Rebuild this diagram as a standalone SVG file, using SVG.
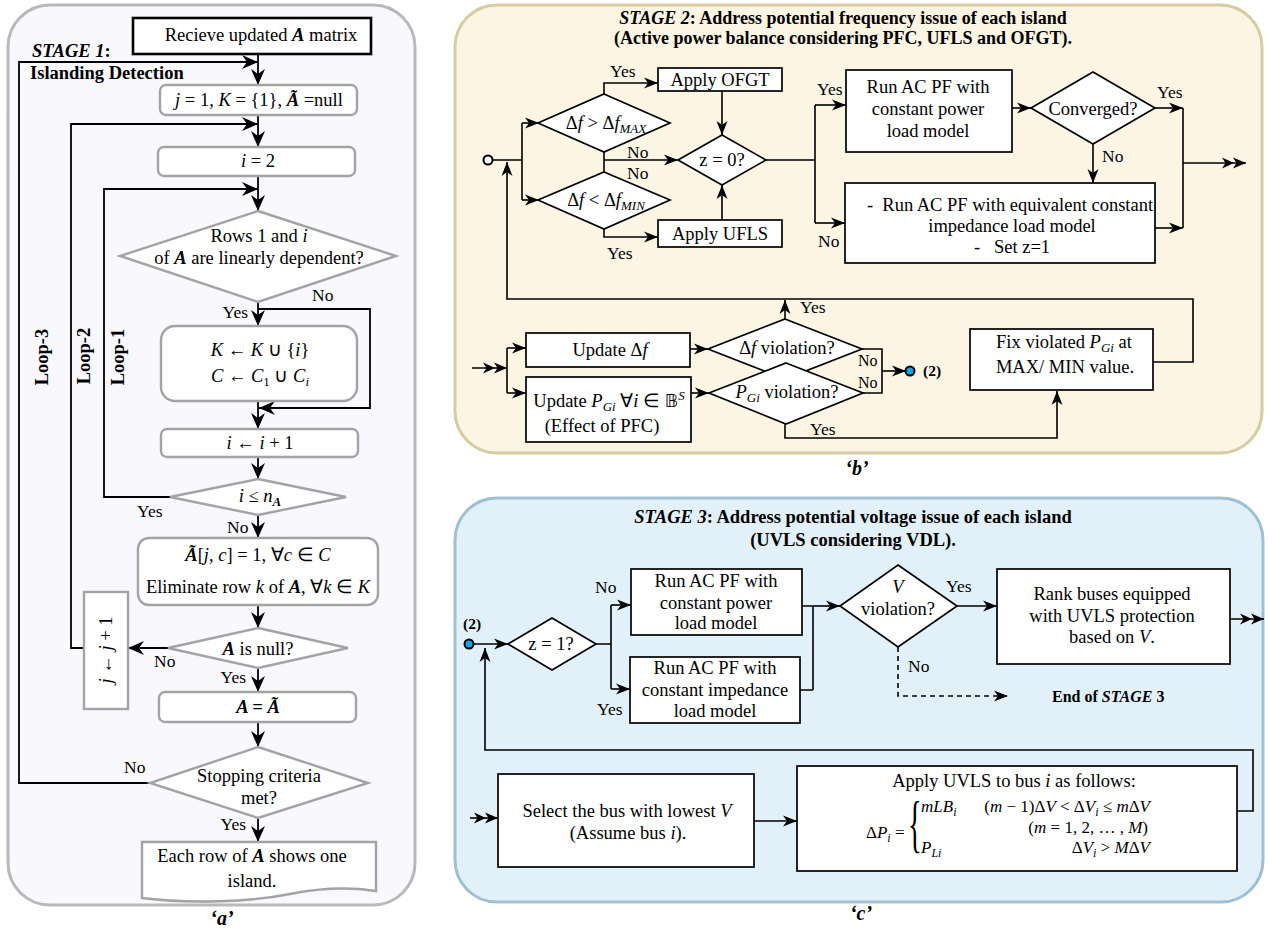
<svg xmlns="http://www.w3.org/2000/svg" width="1269" height="934" viewBox="0 0 1269 934">
<defs>
<style>
text{font-family:"Liberation Serif","Times New Roman",serif;font-size:18.5px;fill:#000}
.m{text-anchor:middle}
.e{text-anchor:end}
.l{font-size:17.5px}
.b{font-weight:bold}
.i{font-style:italic}
.bi{font-weight:bold;font-style:italic}
.sub{font-size:13px}
.f16{font-size:16px}
.f17{font-size:17px}
.f155{font-size:15.5px}
.tt{font-size:18px;font-weight:bold}
.brace{font-size:64px}
.ng{fill:#fff;stroke:#a3a3a3;stroke-width:2.4}
.nb{fill:#fff;stroke:#000;stroke-width:1.7}
.ca{fill:none;stroke:#000;stroke-width:1.8}
.cb{fill:none;stroke:#000;stroke-width:1.6}
.aa{marker-end:url(#ma)}
.ab{marker-end:url(#mb)}
.ad{marker-end:url(#md)}
.dash{stroke-dasharray:5 4}
.cap{font-weight:bold;font-style:italic;font-size:20px}
</style>
<marker id="ma" viewBox="0 0 16 16" refX="16" refY="8" markerWidth="16" markerHeight="16" markerUnits="userSpaceOnUse" orient="auto"><path d="M0,1 L16,8 L0,15 L5,8 Z" fill="#000"/></marker>
<marker id="mb" viewBox="0 0 14 12" refX="14" refY="6" markerWidth="14" markerHeight="12" markerUnits="userSpaceOnUse" orient="auto"><path d="M0,0.5 L14,6 L0,11.5 L4,6 Z" fill="#000"/></marker>
<marker id="md" viewBox="0 0 24 12" refX="24" refY="6" markerWidth="24" markerHeight="12" markerUnits="userSpaceOnUse" orient="auto"><path d="M0,0.5 L12,6 L0,11.5 L3.5,6 Z M11,0.5 L24,6 L11,11.5 L14.5,6 Z" fill="#000"/></marker>
</defs>

<g id="panels">
<rect x="8" y="5" width="407" height="900" rx="42" fill="#f8f8fd" stroke="#b9b9b9" stroke-width="3"/>
<rect x="455" y="5" width="807" height="448" rx="42" fill="#fcf5e4" stroke="#d6cc9f" stroke-width="3"/>
<rect x="455" y="498" width="808" height="404" rx="42" fill="#e2f1f9" stroke="#9fc0d2" stroke-width="3"/>
<text x="222" y="925" class="cap m">‘a’</text>
<text x="857" y="475" class="cap m">‘b’</text>
<text x="861" y="920" class="cap m">‘c’</text>
</g>

<g id="connectors">
<!-- panel a -->
<path class="ca aa" d="M258,54 V85"/>
<path class="ca aa" d="M150,783 H19 V62 H258"/>
<path class="ca aa" d="M258,115 V147"/>
<path class="ca aa" d="M84,648 H71 V124 H258"/>
<path class="ca aa" d="M258,176 V211"/>
<path class="ca aa" d="M170,497 H104 V189 H258"/>
<path class="ca aa" d="M258,302 V326"/>
<path class="ca aa" d="M258,309 H370 V408 H259"/>
<path class="ca aa" d="M258,401 V429"/>
<path class="ca aa" d="M258,457 V479"/>
<path class="ca aa" d="M258,515 V538"/>
<path class="ca aa" d="M258,605 V628"/>
<path class="ca aa" d="M168,648 H128"/>
<path class="ca aa" d="M258,668 V692"/>
<path class="ca aa" d="M258,722 V747"/>
<path class="ca aa" d="M258,818 V842"/>
<!-- panel b -->
<path class="cb" d="M492,160 H522 M522,123 V200"/>
<path class="cb ab" d="M522,123 H539"/>
<path class="cb ab" d="M522,200 H539"/>
<path class="cb ab" d="M604,94 V83 H658"/>
<path class="cb" d="M604,152 V172"/>
<path class="cb ab" d="M604,160 H678"/>
<path class="cb ab" d="M604,229 V237 H658"/>
<path class="cb ab" d="M722,91 V135"/>
<path class="cb ab" d="M722,220 V185"/>
<path class="cb" d="M766,160 H815 M815,105 V223"/>
<path class="cb ab" d="M815,105 H846"/>
<path class="cb ab" d="M815,223 H845"/>
<path class="cb ab" d="M1012,108 H1031"/>
<path class="cb ab" d="M1155,108 H1183"/>
<path class="cb" d="M1183,108 V228"/>
<path class="cb ab" d="M1155,228 H1183"/>
<path class="cb ad" d="M1183,163 H1246"/>
<path class="cb ab" d="M1093,144 V183"/>
<path class="cb ab" d="M1153,362 H1193 V299 H507 V162"/>
<path class="cb ab" d="M785,319 V300"/>
<path class="cb ad" d="M472,368 H507"/>
<path class="cb" d="M507,348 V393"/>
<path class="cb ab" d="M507,348 H526"/>
<path class="cb ab" d="M507,393 H526"/>
<path class="cb ab" d="M690,349 H708"/>
<path class="cb ab" d="M691,393 H709"/>
<path class="cb" d="M862,349 H882 V393 H863"/>
<path class="cb ab" d="M882,371 H906"/>
<path class="cb ab" d="M785,424 V438 H1057 V391"/>
<!-- panel c -->
<path class="cb ab" d="M474,644 H508"/>
<path class="cb" d="M596,644 H611 M611,605 V689"/>
<path class="cb ab" d="M611,605 H631"/>
<path class="cb ab" d="M611,689 H630"/>
<path class="cb" d="M802,606 H813 M800,690 H813 M813,606 V690"/>
<path class="cb ab" d="M813,606 H840"/>
<path class="cb ab" d="M957,606 H997"/>
<path class="cb ad" d="M1230,619 H1264"/>
<path class="cb dash ab" d="M898,647 V696 H1008"/>
<path class="cb ab" d="M1237,811 H1253 V750 H485 V648"/>
<path class="cb ad" d="M470,818 H498"/>
<path class="cb ab" d="M754,821 H797"/>
</g>

<!-- ===== Panel a nodes ===== -->
<g id="a-title">
<text x="32" y="57" class="bi">STAGE 1<tspan class="b" font-style="normal">:</tspan></text>
<text x="30" y="79" class="b">Islanding Detection</text>
</g>
<g id="a-start">
<rect x="133" y="18" width="238" height="36" fill="#fff" stroke="#000" stroke-width="2.6"/>
<text x="261" y="41" class="m">Recieve updated <tspan class="bi">A</tspan> matrix</text>
</g>
<g id="a-init">
<rect x="160" y="85" width="197" height="30" rx="6" class="ng"/>
<text x="259" y="106" class="m"><tspan class="i">j</tspan> = 1, <tspan class="i">K</tspan> = {1}, <tspan class="bi">Ã</tspan> =null</text>
</g>
<g id="a-i2">
<rect x="158" y="147" width="197" height="29" rx="6" class="ng"/>
<text x="258" y="167" class="m"><tspan class="i">i</tspan> = 2</text>
</g>
<g id="a-dep">
<polygon points="258,211 396,256 258,302 120,256" class="ng"/>
<text x="259" y="242" class="m">Rows 1 and <tspan class="i">i</tspan></text>
<text x="259" y="264" class="m">of <tspan class="bi">A</tspan> are linearly dependent?</text>
</g>
<g id="a-k">
<rect x="161" y="326" width="196" height="75" rx="14" class="ng"/>
<text x="260" y="356" class="m"><tspan class="i">K</tspan> ← <tspan class="i">K</tspan> ∪ {<tspan class="i">i</tspan>}</text>
<text x="260" y="382" class="m"><tspan class="i">C</tspan> ← <tspan class="i">C</tspan><tspan class="sub" dy="4">1</tspan><tspan dy="-4"> ∪ </tspan><tspan class="i">C</tspan><tspan class="sub i" dy="4">i</tspan></text>
</g>
<g id="a-inc">
<rect x="161" y="429" width="197" height="28" rx="6" class="ng"/>
<text x="260" y="449" class="m"><tspan class="i">i</tspan> ← <tspan class="i">i</tspan> + 1</text>
</g>
<g id="a-cmp">
<polygon points="258,479 346,497 258,515 170,497" class="ng"/>
<text x="260" y="502" class="m"><tspan class="i">i</tspan> ≤ <tspan class="i">n</tspan><tspan class="sub bi" dy="4">A</tspan></text>
</g>
<g id="a-elim">
<rect x="138" y="538" width="240" height="67" rx="11" class="ng"/>
<text x="258" y="561" class="m"><tspan class="bi">Ã</tspan>[<tspan class="i">j</tspan>,  <tspan class="i">c</tspan>] = 1, ∀<tspan class="i">c</tspan> ∈ <tspan class="i">C</tspan></text>
<text x="258" y="593" class="m">Eliminate row <tspan class="i">k</tspan> of <tspan class="bi">A</tspan>,  ∀<tspan class="i">k</tspan> ∈ <tspan class="i">K</tspan></text>
</g>
<g id="a-null">
<polygon points="258,628 348,648 258,668 168,648" class="ng"/>
<text x="258" y="655" class="m"><tspan class="bi">A</tspan> is null?</text>
</g>
<g id="a-j">
<rect x="84" y="592" width="44" height="117" class="ng"/>
<text transform="translate(112,650) rotate(-90)" class="m"><tspan class="i">j</tspan> ← <tspan class="i">j</tspan> + 1</text>
</g>
<g id="a-assign">
<rect x="159" y="692" width="197" height="30" rx="6" class="ng"/>
<text x="258" y="713" class="m bi">A = Ã</text>
</g>
<g id="a-stop">
<polygon points="258,747 368,783 258,818 150,783" class="ng"/>
<text x="259" y="782" class="m">Stopping criteria</text>
<text x="259" y="804" class="m">met?</text>
</g>
<g id="a-end">
<path d="M142,842 H376 V891 C350,887 320,888 290,894 C250,902 190,904 142,898 Z" class="ng"/>
<text x="252" y="862" class="m">Each row of <tspan class="bi">A</tspan> shows one</text>
<text x="252" y="887" class="m">island.</text>
</g>
<g id="a-labels">
<text x="312" y="301" class="l">No</text>
<text x="248" y="318" class="l e">Yes</text>
<text x="137" y="517" class="l">Yes</text>
<text x="227" y="533" class="l">No</text>
<text x="154" y="667" class="l">No</text>
<text x="246" y="683" class="l e">Yes</text>
<text x="124" y="773" class="l">No</text>
<text x="246" y="830" class="l e">Yes</text>
<text transform="translate(124,357) rotate(-90)" class="m b">Loop-1</text>
<text transform="translate(90,356) rotate(-90)" class="m b">Loop-2</text>
<text transform="translate(48,357) rotate(-90)" class="m b">Loop-3</text>
</g>

<!-- ===== Panel b nodes ===== -->
<g id="b-title">
<text x="843" y="24" class="m tt"><tspan class="bi">STAGE 2</tspan>: Address potential frequency issue of each island</text>
<text x="843" y="44" class="m tt">(Active power balance considering PFC, UFLS and OFGT).</text>
</g>
<g id="b-start"><circle cx="488" cy="160" r="4.5" fill="#fff" stroke="#000" stroke-width="2"/></g>
<g id="b-dmax">
<polygon points="604,94 670,123 604,152 538,123" class="nb"/>
<text x="606" y="129" class="m">Δ<tspan class="i">f</tspan> &gt; Δ<tspan class="i">f</tspan><tspan class="sub i" dy="4">MAX</tspan></text>
</g>
<g id="b-dmin">
<polygon points="604,172 670,200 604,229 538,200" class="nb"/>
<text x="606" y="206" class="m">Δ<tspan class="i">f</tspan> &lt; Δ<tspan class="i">f</tspan><tspan class="sub i" dy="4">MIN</tspan></text>
</g>
<g id="b-ofgt">
<rect x="658" y="68" width="124" height="23" class="nb"/>
<text x="720" y="86" class="m">Apply OFGT</text>
</g>
<g id="b-ufls">
<rect x="658" y="220" width="124" height="27" class="nb"/>
<text x="720" y="240" class="m">Apply UFLS</text>
</g>
<g id="b-z0">
<polygon points="722,135 766,160 722,185 678,160" class="nb"/>
<text x="722" y="166" class="m">z = 0?</text>
</g>
<g id="b-pf">
<rect x="846" y="70" width="166" height="82" class="nb"/>
<text x="928" y="93" class="m">Run AC PF with</text>
<text x="928" y="115" class="m">constant power</text>
<text x="928" y="137" class="m">load model</text>
</g>
<g id="b-conv">
<polygon points="1093,72 1155,108 1093,144 1031,108" class="nb"/>
<text x="1093" y="115" class="m">Converged?</text>
</g>
<g id="b-zpf">
<rect x="845" y="183" width="310" height="80" class="nb"/>
<text x="1010" y="211" class="m" xml:space="preserve">-  Run AC PF with equivalent constant</text>
<text x="1012" y="232" class="m">impedance load model</text>
<text x="1012" y="253" class="m" xml:space="preserve">-   Set z=1</text>
</g>
<g id="b-upf">
<rect x="526" y="333" width="164" height="34" class="nb"/>
<text x="610" y="356" class="m">Update Δ<tspan class="i">f</tspan></text>
</g>
<g id="b-upg">
<rect x="526" y="377" width="165" height="65" class="nb"/>
<text x="609" y="407" class="m">Update <tspan class="i">P</tspan><tspan class="sub i" dy="4">Gi</tspan><tspan dy="-4"> ∀</tspan><tspan class="i">i</tspan> ∈ <tspan style="font-family:'DejaVu Sans',sans-serif">𝔹</tspan><tspan class="sub i" dy="-7">S</tspan></text>
<text x="602" y="432" class="m">(Effect of PFC)</text>
</g>
<g id="b-dfv">
<polygon points="785,319 862,349 785,379 708,349" class="nb"/>
<text x="787" y="354" class="m">Δ<tspan class="i">f</tspan> violation?</text>
</g>
<g id="b-pgv">
<polygon points="786,363 863,393 786,424 709,393" class="nb"/>
<text x="787" y="398" class="m"><tspan class="i">P</tspan><tspan class="sub i" dy="4">Gi</tspan><tspan dy="-4"> violation?</tspan></text>
</g>
<g id="b-fix">
<rect x="970" y="329" width="183" height="61" class="nb"/>
<text x="1064" y="348" class="m">Fix violated <tspan class="i">P</tspan><tspan class="sub i" dy="4">Gi</tspan><tspan dy="-4"> at</tspan></text>
<text x="1065" y="373" class="m">MAX/ MIN value.</text>
</g>
<g id="b-out">
<circle cx="910" cy="371" r="4.5" fill="#16a4e6" stroke="#000" stroke-width="2"/>
<text x="923" y="376" class="b f155">(2)</text>
</g>
<g id="b-labels">
<text x="610" y="77" class="l">Yes</text>
<text x="627" y="158" class="l">No</text>
<text x="627" y="179" class="l">No</text>
<text x="607" y="259" class="l">Yes</text>
<text x="817" y="95" class="l">Yes</text>
<text x="818" y="247" class="l">No</text>
<text x="1157" y="98" class="l">Yes</text>
<text x="1102" y="162" class="l">No</text>
<text x="800" y="313" class="l">Yes</text>
<text x="858" y="366" class="f16">No</text>
<text x="858" y="388" class="f16">No</text>
<text x="810" y="435" class="l">Yes</text>
</g>

<!-- ===== Panel c nodes ===== -->
<g id="c-title">
<text x="853" y="523" class="m b"><tspan class="bi">STAGE 3</tspan>: Address potential voltage issue of each island</text>
<text x="853" y="546" class="m b">(UVLS considering VDL).</text>
</g>
<g id="c-in">
<circle cx="469" cy="644" r="4.5" fill="#16a4e6" stroke="#000" stroke-width="2"/>
<text x="463" y="629" class="b f155">(2)</text>
</g>
<g id="c-z1">
<polygon points="552,618 596,644 552,670 508,644" class="nb"/>
<text x="551" y="650" class="m">z = 1?</text>
</g>
<g id="c-pf">
<rect x="631" y="569" width="171" height="66" class="nb"/>
<text x="716" y="587" class="m">Run AC PF with</text>
<text x="716" y="609" class="m">constant power</text>
<text x="716" y="629" class="m">load model</text>
</g>
<g id="c-zpf">
<rect x="630" y="657" width="170" height="66" class="nb"/>
<text x="715" y="674" class="m">Run AC PF with</text>
<text x="715" y="696" class="m">constant impedance</text>
<text x="715" y="717" class="m">load model</text>
</g>
<g id="c-v">
<polygon points="898,565 957,606 898,647 840,606" class="nb"/>
<text x="898" y="593" class="m i">V</text>
<text x="898" y="615" class="m">violation?</text>
</g>
<g id="c-rank">
<rect x="997" y="569" width="233" height="95" class="nb"/>
<text x="1112" y="600" class="m">Rank buses equipped</text>
<text x="1112" y="622" class="m">with UVLS protection</text>
<text x="1112" y="643" class="m">based on <tspan class="i">V</tspan>.</text>
</g>
<g id="c-end">
<text x="1052" y="702" class="b f16">End of <tspan class="bi">STAGE</tspan> 3</text>
</g>
<g id="c-sel">
<rect x="498" y="774" width="256" height="93" class="nb"/>
<text x="627" y="817" class="m">Select the bus with lowest <tspan class="i">V</tspan></text>
<text x="628" y="839" class="m">(Assume bus <tspan class="i">i</tspan>).</text>
</g>
<g id="c-apply">
<rect x="797" y="766" width="440" height="105" class="nb"/>
<text x="1014" y="787" class="m">Apply UVLS to bus <tspan class="i">i</tspan> as follows:</text>
<text x="866" y="838" class="f17">Δ<tspan class="i">P</tspan><tspan class="i" dy="4" font-size="12">i</tspan><tspan dy="-4"> =</tspan></text>
<text transform="translate(908,845) scale(0.45,1)" class="brace">{</text>
<text x="921" y="812" class="f17 i">mLB<tspan dy="4" font-size="12">i</tspan></text>
<text x="1150" y="812" class="f17 e">(<tspan class="i">m</tspan> − 1)Δ<tspan class="i">V</tspan> &lt; Δ<tspan class="i">V</tspan><tspan class="i" dy="4" font-size="12">i</tspan><tspan dy="-4"> ≤ </tspan><tspan class="i">m</tspan>Δ<tspan class="i">V</tspan></text>
<text x="1148" y="833" class="f17 e">(<tspan class="i">m</tspan> = 1, 2, … , <tspan class="i">M</tspan>)</text>
<text x="921" y="853" class="f17 i">P<tspan dy="4" font-size="12">Li</tspan></text>
<text x="1150" y="853" class="f17 e">Δ<tspan class="i">V</tspan><tspan class="i" dy="4" font-size="12">i</tspan><tspan dy="-4"> &gt; </tspan><tspan class="i">M</tspan>Δ<tspan class="i">V</tspan></text>
</g>
<g id="c-labels">
<text x="595" y="593" class="l">No</text>
<text x="597" y="715" class="l">Yes</text>
<text x="946" y="592" class="l">Yes</text>
<text x="908" y="672" class="l">No</text>
</g>
</svg>
